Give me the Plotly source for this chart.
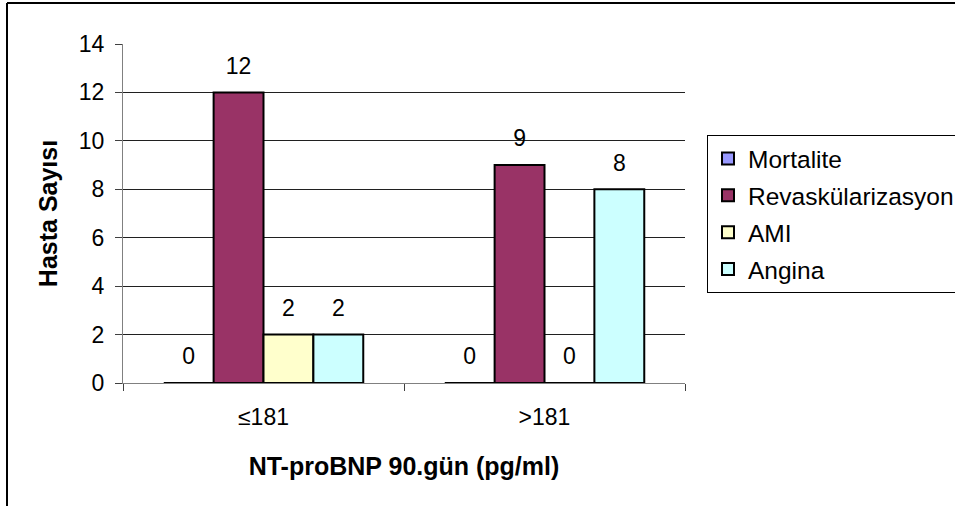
import plotly.graph_objects as go

categories = ["≤181", ">181"]
series_names = ["Mortalite", "Revaskülarizasyon", "AMI", "Angina"]
mortalite = [0, 0]
revask = [12, 9]
ami = [2, 0]
angina = [2, 8]
colors = ["#9999FF", "#993366", "#FFFFCC", "#CCFFFF"]
y_ticks = [0, 2, 4, 6, 8, 10, 12, 14]

W, H = 955, 506
L, R, T, B = 123, 270, 44, 123
pw, ph = W - L - R, H - T - B

FONT = "Liberation Sans, Arial, sans-serif"
FS = 23
FT = 25
FL = 24.5
GAP = 0.29

fig = go.Figure()
all_vals = [mortalite, revask, ami, angina]
for i, (name, vals) in enumerate(zip(series_names, all_vals)):
    fig.add_trace(go.Bar(
        x=categories, y=vals, name=name,
        marker=dict(color=colors[i], line=dict(color="black", width=2)),
        legendgroup=name, offsetgroup=name, hoverinfo="skip",
    ))
for i, (name, vals) in enumerate(zip(series_names, all_vals)):
    fig.add_trace(go.Scatter(
        x=categories, y=vals, mode="markers+text", text=[str(v) for v in vals],
        textposition="top center", textfont=dict(family=FONT, size=FS, color="black"),
        marker=dict(size=19, color="rgba(0,0,0,0)"),
        showlegend=False, cliponaxis=False, offsetgroup=name, hoverinfo="skip",
    ))

def px_x(x):
    return (x - L) / pw

def px_y(y):
    return (H - B - y) / ph

shapes = [
    dict(type="line", xref="paper", yref="paper", x0=px_x(7), x1=px_x(7), y0=px_y(3), y1=px_y(H + 5),
         line=dict(color="black", width=2)),
    dict(type="line", xref="paper", yref="paper", x0=px_x(7), x1=px_x(W + 5), y0=px_y(3), y1=px_y(3),
         line=dict(color="black", width=2)),
]

fig.update_layout(
    width=W, height=H,
    margin=dict(l=L, r=R, t=T, b=B, pad=0, autoexpand=False),
    paper_bgcolor="white", plot_bgcolor="white",
    barmode="group", bargap=GAP, bargroupgap=0,
    scattermode="group", scattergap=GAP,
    font=dict(family=FONT, size=FS, color="black"),
    showlegend=True,
    legend=dict(
        x=px_x(707), y=px_y(135), xanchor="left", yanchor="top",
        bordercolor="black", borderwidth=1, bgcolor="white",
        font=dict(family=FONT, size=FL, color="black"),
        tracegroupgap=2, itemwidth=30,
    ),
    shapes=shapes,
    xaxis=dict(
        title=dict(text="<b>NT-proBNP 90.gün (pg/ml)</b>", font=dict(family=FONT, size=FT), standoff=28),
        showline=True, linecolor="#808080", linewidth=1,
        ticks="outside", ticklen=7, tickcolor="#404040", tickson="boundaries",
        tickfont=dict(family=FONT, size=FS), ticklabelstandoff=13,
        showgrid=False,
    ),
    yaxis=dict(
        title=dict(text="<b>Hasta Sayısı</b>", font=dict(family=FONT, size=FT), standoff=14),
        range=[0, 14], tickvals=y_ticks,
        showline=True, linecolor="#808080", linewidth=1,
        ticks="outside", ticklen=7, tickcolor="#404040",
        tickfont=dict(family=FONT, size=FS), ticklabelstandoff=6,
        showgrid=True, gridcolor="#202020", gridwidth=1,
        zeroline=False,
    ),
)

fig.write_html("out.html")
